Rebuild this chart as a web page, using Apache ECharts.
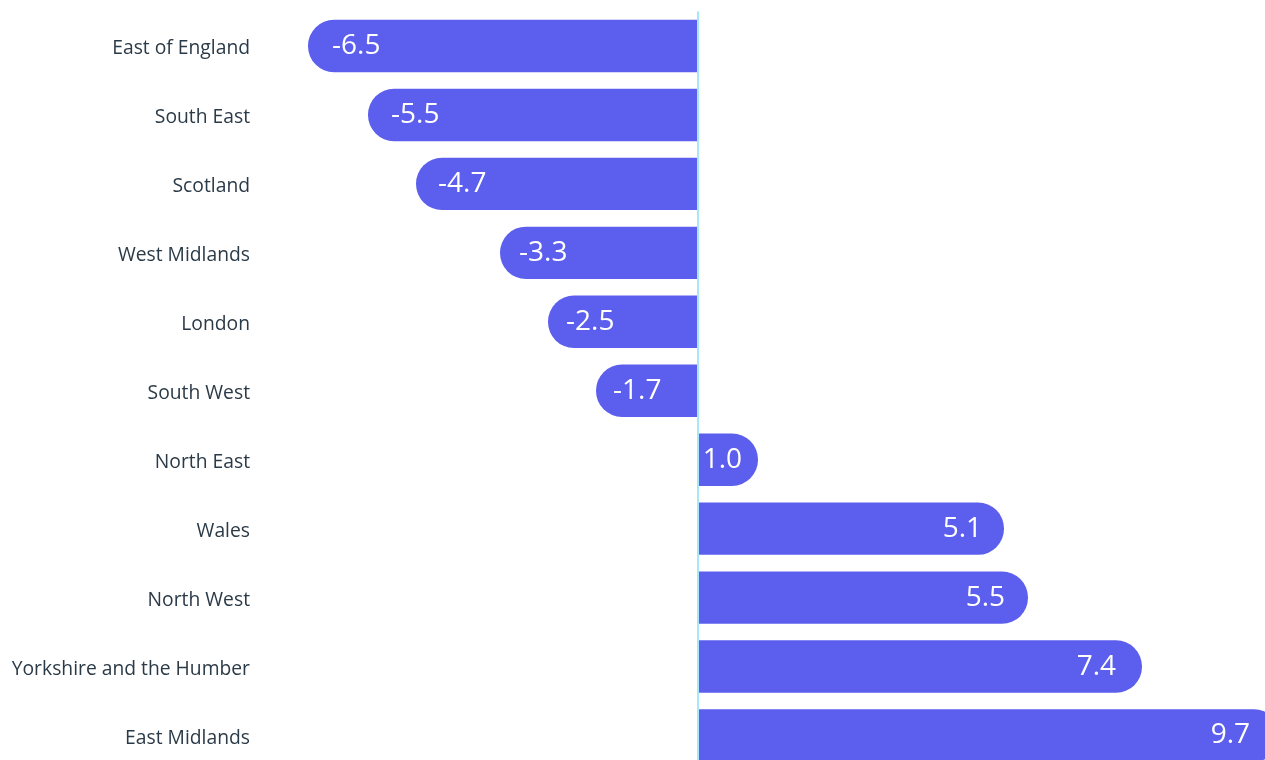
<!DOCTYPE html>
<html>
<head>
<meta charset="utf-8">
<style>
  html, body { margin: 0; padding: 0; background: #ffffff; overflow: hidden; }
  /* the drawing surface runs a little past the window so the longest bar is cut off */
  #chart { width: 1280px; height: 770px; }
</style>
<script src="https://cdn.jsdelivr.net/npm/echarts@6/dist/echarts.min.js"></script>
</head>
<body>
<div id="chart"></div>
<script>
// Change by region, ordered from largest fall to largest rise
const regions = [
  'East of England', 'South East', 'Scotland', 'West Midlands', 'London',
  'South West', 'North East', 'Wales', 'North West',
  'Yorkshire and the Humber', 'East Midlands'
];
const changes = [-6.5, -5.5, -4.7, -3.3, -2.5, -1.7, 1.0, 5.1, 5.5, 7.4, 9.7];

const BAR_COLOR = '#5c5fee';
const RADIUS = 26;

const chart = echarts.init(document.getElementById('chart'), null, { renderer: 'canvas' });

const barData = changes.map(v => ({
  value: v,
  itemStyle: {
    borderRadius: v < 0 ? [RADIUS, 0, 0, RADIUS] : [0, RADIUS, RADIUS, 0]
  },
  label: {
    position: v < 0 ? 'insideLeft' : 'insideRight',
    distance: Math.round(14 + 1.6 * Math.abs(v))
  }
}));

chart.setOption({
  animation: false,
  grid: { left: 308, right: 0, top: 11.5, bottom: 0, containLabel: false },
  xAxis: {
    type: 'value',
    min: -6.5,
    max: 9.7,
    show: false
  },
  yAxis: {
    type: 'category',
    data: regions,
    inverse: true,
    axisLine: { show: false },
    axisTick: { show: false },
    splitLine: { show: false },
    axisLabel: {
      margin: 58,
      align: 'right',
      verticalAlign: 'top',
      lineHeight: 6,
      color: '#2b3a47',
      fontSize: 19.3,
      fontFamily: 'Open Sans'
    }
  },
  series: [{
    type: 'bar',
    data: barData,
    barCategoryGap: '24%',
    itemStyle: { color: BAR_COLOR },
    label: {
      show: true,
      color: '#ffffff',
      fontSize: 28,
      fontFamily: 'Open Sans',
      formatter: p => p.value.toFixed(1)
    },
    markLine: {
      silent: true,
      symbol: 'none',
      label: { show: false },
      lineStyle: { color: '#a6e8f7', width: 2, type: 'solid' },
      data: [{ xAxis: 0 }]
    }
  }]
});
</script>
</body>
</html>
